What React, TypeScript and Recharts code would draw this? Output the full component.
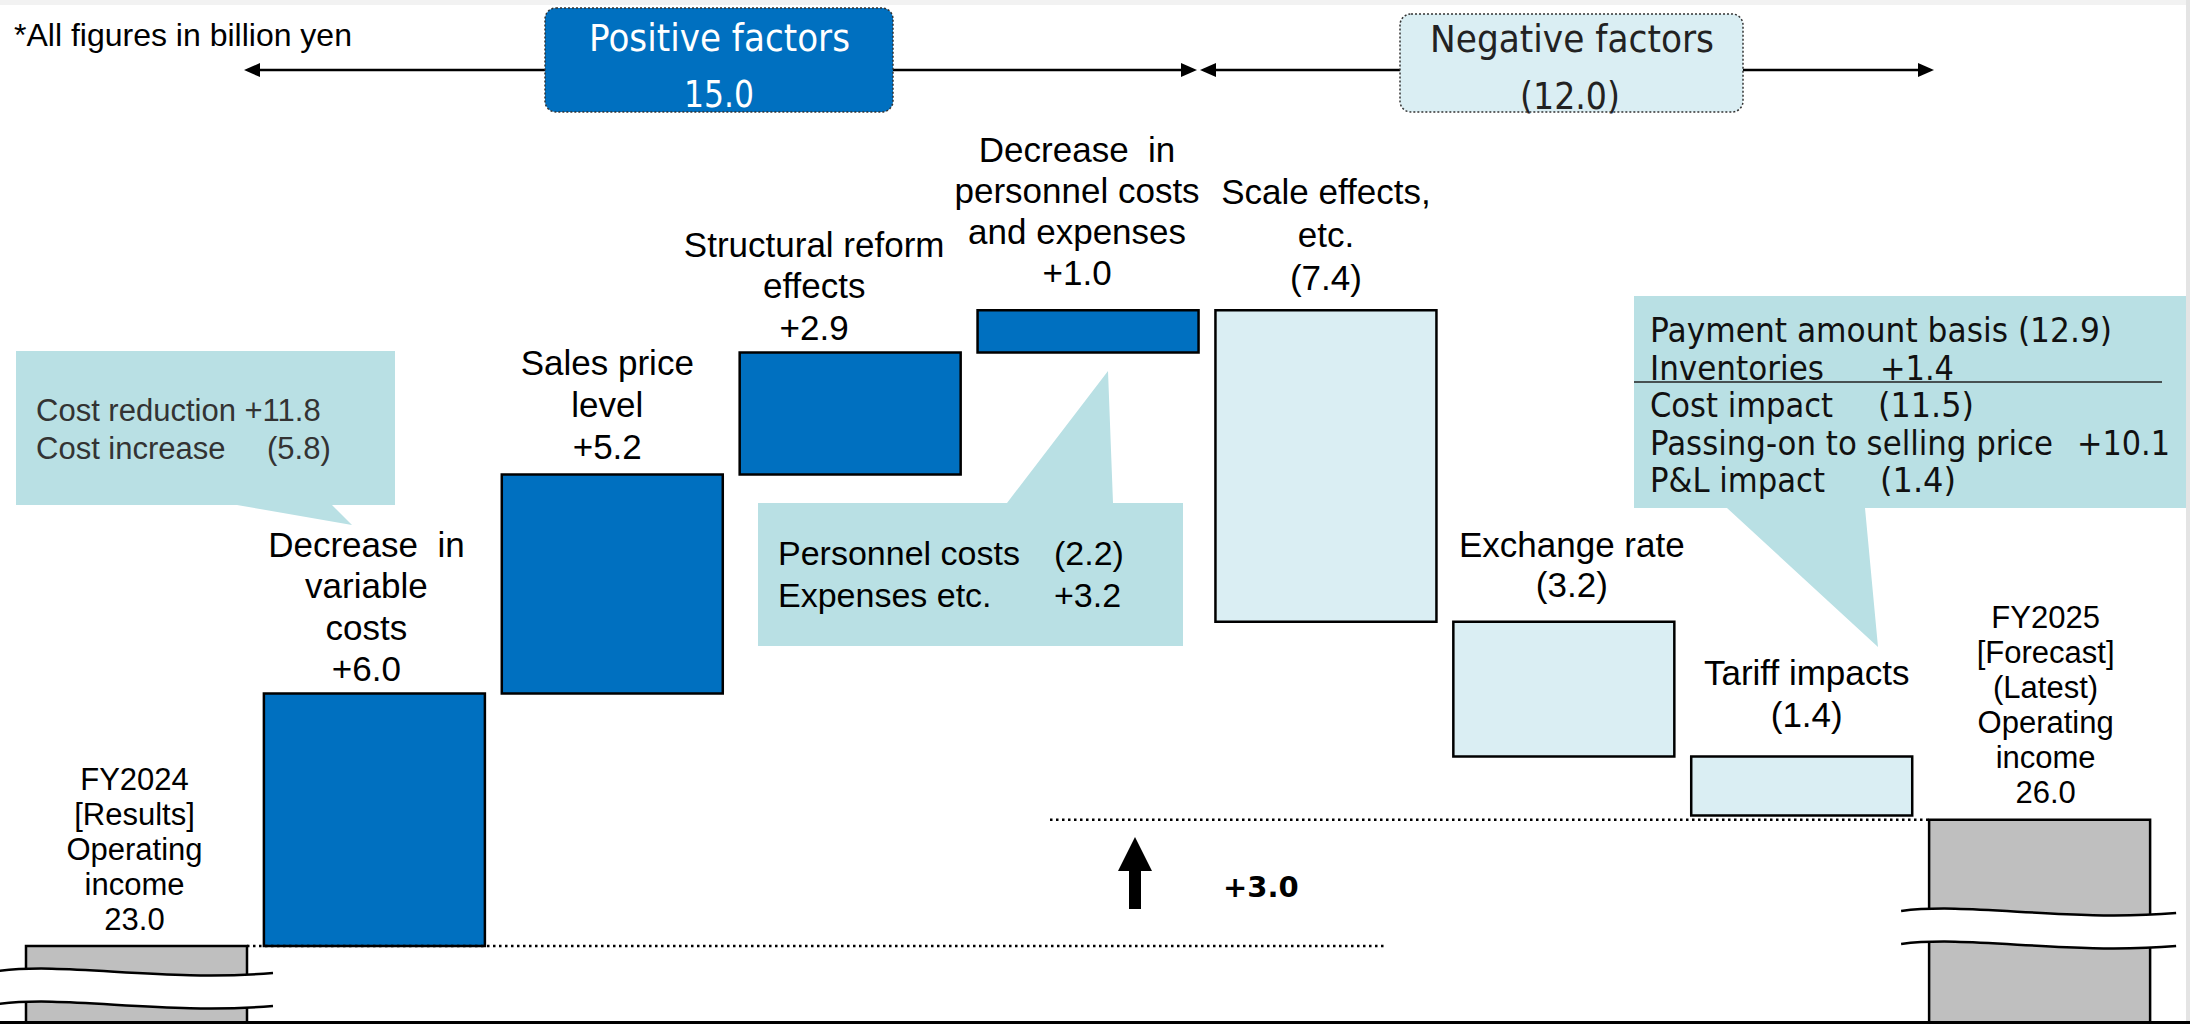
import React from "react";
import { BarChart, Bar, XAxis, YAxis, Cell, LabelList, ReferenceLine } from "recharts";

// values in billion yen
const categories = [
  "FY2024 Results",
  "Variable costs",
  "Sales price level",
  "Structural reform",
  "Personnel costs and expenses",
  "Scale effects",
  "Exchange rate",
  "Tariff impacts",
  "FY2025 Forecast",
];
const labelLines = [
  ["FY2024", "[Results]", "Operating", "income"],
  ["Decrease\u00a0 in", "variable", "costs"],
  ["Sales price", "level"],
  ["Structural reform", "effects"],
  ["Decrease\u00a0 in", "personnel costs", "and expenses"],
  ["Scale effects,", "etc."],
  ["Exchange rate"],
  ["Tariff impacts"],
  ["FY2025", "[Forecast]", "(Latest)", "Operating", "income"],
];
const startValue = 23.0;
const deltas = [6.0, 5.2, 2.9, 1.0, -7.4, -3.2, -1.4];
const endValue = 26.0;
const positiveTotal = 15.0;
const negativeTotal = -12.0;
const netChange = 3.0;

const leftNote = [
  ["Cost reduction +11.8", ""],
  ["Cost increase", "(5.8)"],
];
const personnelNote = [
  ["Personnel costs", "(2.2)"],
  ["Expenses etc.", "+3.2"],
];
const tariffNote = [
  ["Payment amount basis (12.9)", ""],
  ["Inventories", "+1.4"],
  ["Cost impact", "(11.5)"],
  ["Passing-on to selling price", "+10.1"],
  ["P&L impact", "(1.4)"],
];

// axis window (the totals are drawn with a broken axis)
const Y_MIN = 21.147;
const Y_MAX = 45.47;

type Row = { name: string; value: number; range: [number, number]; kind: string };

let cum = startValue;
const rows: Row[] = categories.map((name, i) => {
  if (i === 0) return { name, value: startValue, range: [Y_MIN, startValue], kind: "total" };
  if (i === categories.length - 1) return { name, value: endValue, range: [Y_MIN, endValue], kind: "total" };
  const d = deltas[i - 1];
  const lo = Math.min(cum, cum + d);
  const hi = Math.max(cum, cum + d);
  cum += d;
  return { name, value: d, range: [lo, hi], kind: d > 0 ? "up" : "down" };
});

const fmt = (r: Row) => {
  if (r.kind === "total") return r.value.toFixed(1);
  if (r.value > 0) return "+" + r.value.toFixed(1);
  return "(" + Math.abs(r.value).toFixed(1) + ")";
};

const fills: Record<string, string> = { total: "#BFBFBF", up: "#0070C0", down: "#DAEEF3" };

// per-label placement: horizontal shift, gap above bar, line height, font size
const labelLayout = [
  { dx: -2, gap: 16, lh: 35, size: 31 },
  { dx: -8, gap: 12, lh: 41.5, size: 35 },
  { dx: -5, gap: 15.5, lh: 42, size: 35 },
  { dx: -36, gap: 12.5, lh: 41.5, size: 35 },
  { dx: -11, gap: 25, lh: 41, size: 35 },
  { dx: 0, gap: 20, lh: 43, size: 35 },
  { dx: 8, gap: 25, lh: 40, size: 35 },
  { dx: 5, gap: 29.5, lh: 42, size: 35 },
  { dx: 6, gap: 17, lh: 35, size: 31 },
];
const breakY: Record<number, number> = { 0: 971, 8: 911 };

// text box widths for the narrow sans used in the boxes
const tariffX = [
  [1650, 462, 0, 0],
  [1650, 174, 1880, 74],
  [1650, 183, 1878, 96],
  [1650, 403, 2077, 93],
  [1650, 175, 1880, 76],
];

const ARIAL = "'Liberation Sans', Arial, sans-serif";
const VERDANA = "'DejaVu Sans', Verdana, sans-serif";

function BreakMark({ x, w, y }: { x: number; w: number; y: number }) {
  const L = x - 28;
  const R = x + w + 26;
  const W = R - L;
  const gap = 33;
  const top = `M${L},${y} C${L + 0.25 * W},${y - 9} ${L + 0.6 * W},${y + 11} ${R},${y + 2}`;
  const bot = `M${L},${y + gap} C${L + 0.25 * W},${y + gap - 9} ${L + 0.6 * W},${y + gap + 11} ${R},${y + gap + 2}`;
  const band =
    top +
    ` L${R},${y + gap + 2} C${L + 0.6 * W},${y + gap + 11} ${L + 0.25 * W},${y + gap - 9} ${L},${y + gap} Z`;
  return (
    <g>
      <path d={band} fill="#fff" stroke="none" />
      <path d={top} fill="none" stroke="#000" strokeWidth={2.5} />
      <path d={bot} fill="none" stroke="#000" strokeWidth={2.5} />
    </g>
  );
}

const renderBarLabel = (props: any) => {
  const vb = props.viewBox ?? props;
  const idx = typeof props.index === "number" ? props.index : rows.findIndex((r) => r.value === props.value);
  const row = rows[idx];
  if (!row) return null;
  const x = Number(vb.x);
  const w = Number(vb.width);
  const y0 = Number(vb.y);
  const h = Number(vb.height);
  const top = Math.min(y0, y0 + h);
  const L = labelLayout[idx];
  const lines = [...labelLines[idx], fmt(row)];
  const cx = x + w / 2 + L.dx;
  const last = top - L.gap;
  return (
    <g>
      {row.kind === "total" && <BreakMark x={x} w={w} y={breakY[idx]} />}
      <text textAnchor="middle" fontFamily={ARIAL} fontSize={L.size} fill="#000" style={{ whiteSpace: "pre" }}>
        {lines.map((t, j) => (
          <tspan key={j} x={cx} y={last - (lines.length - 1 - j) * L.lh}>
            {t}
          </tspan>
        ))}
      </text>
    </g>
  );
};

const dotted = (x1: number, x2: number) => (p: any) => (
  <line x1={x1} x2={x2} y1={p.y1} y2={p.y1} stroke="#000" strokeWidth={2.5} strokeDasharray="2.5 3.5" />
);

const CALLOUT = "#B9E0E4";

function Overlay() {
  return (
    <svg width={2190} height={1024} style={{ position: "absolute", left: 0, top: 0, pointerEvents: "none" }}>
      <rect x={0} y={0} width={2190} height={5} fill="#F2F2F2" />
      <rect x={2186} y={0} width={4} height={1024} fill="#E4E4E4" />
      <rect x={0} y={1021} width={2190} height={3} fill="#000" />

      <text x={14} y={46} fontFamily={ARIAL} fontSize={32} fill="#000">
        *All figures in billion yen
      </text>

      {/* span arrows */}
      <line x1={250} x2={1190} y1={70} y2={70} stroke="#000" strokeWidth={2.5} />
      <polygon points="244,70 260,63 260,77" fill="#000" />
      <polygon points="1197,70 1181,63 1181,77" fill="#000" />
      <line x1={1206} x2={1928} y1={70} y2={70} stroke="#000" strokeWidth={2.5} />
      <polygon points="1200,70 1216,63 1216,77" fill="#000" />
      <polygon points="1934,70 1918,63 1918,77" fill="#000" />

      <rect x={545} y={8} width={348} height={104} rx={11} fill="#0070C0" stroke="#333" strokeWidth={1.5} strokeDasharray="2 2" />
      <text x={589} y={51} fontFamily={VERDANA} fontSize={37} fill="#fff" textLength={261} lengthAdjust="spacingAndGlyphs">
        Positive factors
      </text>
      <text x={684} y={107} fontFamily={VERDANA} fontSize={37} fill="#fff" textLength={70} lengthAdjust="spacingAndGlyphs">
        {positiveTotal.toFixed(1)}
      </text>

      <rect x={1400} y={14} width={343} height={98} rx={11} fill="#DAEEF3" stroke="#333" strokeWidth={1.5} strokeDasharray="2 2" />
      <text x={1430} y={52} fontFamily={VERDANA} fontSize={37} fill="#222" textLength={284} lengthAdjust="spacingAndGlyphs">
        Negative factors
      </text>
      <text x={1520} y={109} fontFamily={VERDANA} fontSize={37} fill="#222" textLength={100} lengthAdjust="spacingAndGlyphs">
        {"(" + Math.abs(negativeTotal).toFixed(1) + ")"}
      </text>

      {/* left callout */}
      <polygon points="16,351 395,351 395,505 332,505 352,525 237,505 16,505" fill={CALLOUT} />
      {leftNote.map((l, i) => (
        <g key={i}>
          <text x={36} y={421 + i * 38} fontFamily={ARIAL} fontSize={31} fill="#333">
            {l[0]}
          </text>
          {l[1] && (
            <text x={267} y={421 + i * 38} fontFamily={ARIAL} fontSize={31} fill="#333">
              {l[1]}
            </text>
          )}
        </g>
      ))}

      {/* personnel callout */}
      <polygon points="758,503 1007,503 1108,371 1113,503 1183,503 1183,646 758,646" fill={CALLOUT} />
      {personnelNote.map((l, i) => (
        <g key={i}>
          <text x={778} y={565 + i * 42} fontFamily={ARIAL} fontSize={34} fill="#000">
            {l[0]}
          </text>
          <text x={1054} y={565 + i * 42} fontFamily={ARIAL} fontSize={34} fill="#000">
            {l[1]}
          </text>
        </g>
      ))}

      {/* tariff callout */}
      <polygon points="1634,296 2186,296 2186,508 1865,508 1878,647 1727,508 1634,508" fill={CALLOUT} />
      <line x1={1634} x2={2162} y1={382} y2={382} stroke="#222" strokeWidth={1.5} />
      {tariffNote.map((l, i) => {
        const [x1, w1, x2, w2] = tariffX[i];
        const y = 342 + i * 37.5;
        return (
          <g key={i}>
            <text x={x1} y={y} fontFamily={VERDANA} fontSize={33} fill="#111" textLength={w1} lengthAdjust="spacingAndGlyphs">
              {l[0]}
            </text>
            {l[1] && (
              <text x={x2} y={y} fontFamily={VERDANA} fontSize={33} fill="#111" textLength={w2} lengthAdjust="spacingAndGlyphs">
                {l[1]}
              </text>
            )}
          </g>
        );
      })}

      {/* net change arrow */}
      <polygon points="1135,837 1152,871 1141,871 1141,909 1129,909 1129,871 1118,871" fill="#000" />
      <text x={1223} y={897} fontFamily={VERDANA} fontWeight="bold" fontSize={29} fill="#000">
        {"+" + netChange.toFixed(1)}
      </text>
    </svg>
  );
}

export default function App() {
  return (
    <div style={{ position: "relative", width: 2190, height: 1024, background: "#fff" }}>
      <style>{"body{margin:0}"}</style>
      <BarChart width={2190} height={1024} data={rows} margin={{ top: 0, right: 31, left: 18, bottom: 0 }}>
        <XAxis dataKey="name" hide />
        <YAxis hide type="number" domain={[Y_MIN, Y_MAX]} allowDataOverflow />
        <Bar dataKey="range" barSize={221} stroke="#000" strokeWidth={2.5} isAnimationActive={false}>
          {rows.map((r, i) => (
            <Cell key={i} fill={fills[r.kind]} />
          ))}
          <LabelList dataKey="value" content={renderBarLabel} />
        </Bar>
        <ReferenceLine y={startValue} shape={dotted(247, 1386)} />
        <ReferenceLine y={endValue} shape={dotted(1050, 1930)} />
      </BarChart>
      <Overlay />
    </div>
  );
}
